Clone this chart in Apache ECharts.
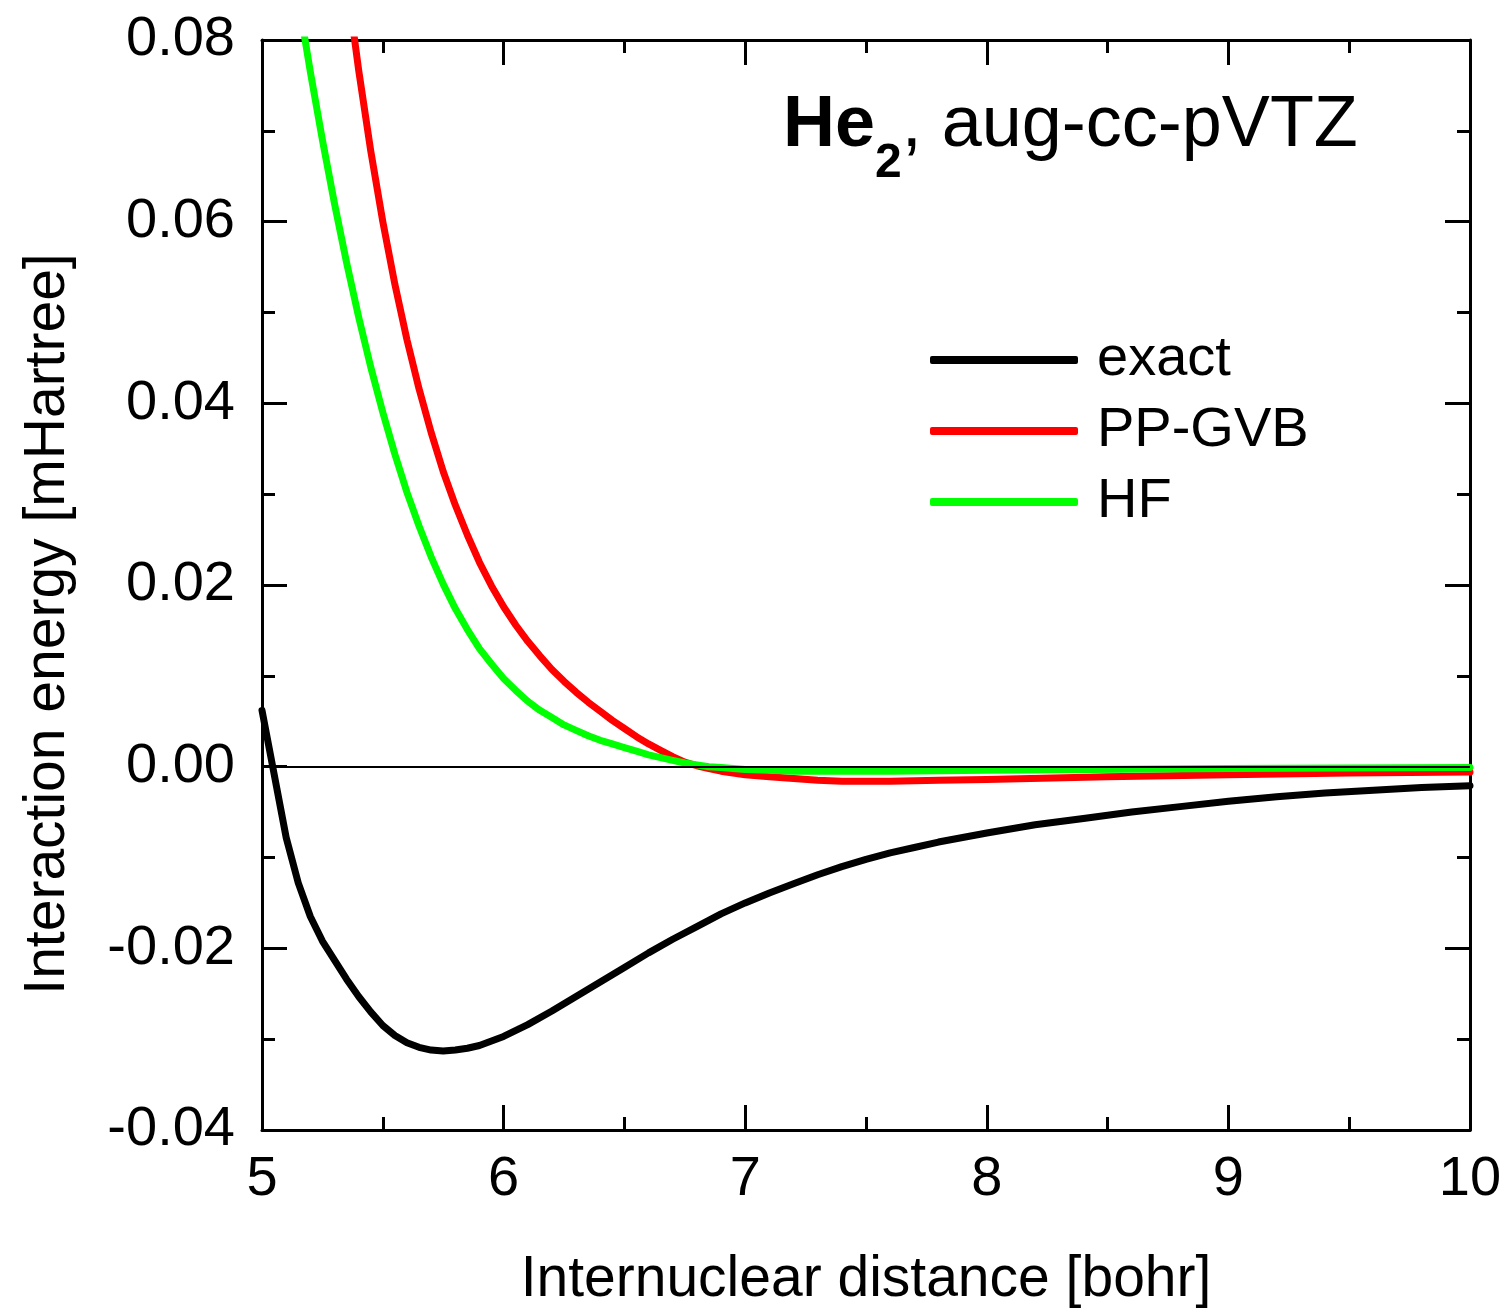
<!DOCTYPE html>
<html>
<head>
<meta charset="utf-8">
<script src="https://cdn.jsdelivr.net/npm/echarts@6/dist/echarts.min.js"></script>
<style>
  html, body { margin: 0; padding: 0; background: #fff; }
  #chart { width: 1510px; height: 1314px; }
</style>
</head>
<body>
<div id="chart"></div>
<script>
// He2 interaction energy curves (aug-cc-pVTZ)
const FONT = "'Liberation Sans', Arial, Helvetica, sans-serif";

const exactR = [5.00, 5.05, 5.10, 5.15, 5.20, 5.25, 5.30, 5.35, 5.40, 5.45, 5.50, 5.55, 5.60, 5.65, 5.70, 5.75,
  5.80, 5.85, 5.90, 5.95, 6.00, 6.10, 6.20, 6.30, 6.40, 6.50, 6.60, 6.70, 6.80, 6.90, 7.00, 7.10, 7.20, 7.30,
  7.40, 7.50, 7.60, 7.70, 7.80, 7.90, 8.00, 8.20, 8.40, 8.60, 8.80, 9.00, 9.20, 9.40, 9.60, 9.80, 10.0];
const exactE = [0.0062, -0.0008, -0.0078, -0.0128, -0.0165, -0.0192, -0.0213, -0.0234, -0.0253, -0.0270, -0.0285,
  -0.0296, -0.0304, -0.0309, -0.0312, -0.0313, -0.0312, -0.0310, -0.0307, -0.0302, -0.0297, -0.0284, -0.0269,
  -0.0253, -0.0237, -0.0221, -0.0205, -0.0190, -0.0176, -0.0162, -0.0150, -0.0139, -0.0129, -0.0119, -0.0110,
  -0.0102, -0.0095, -0.0089, -0.0083, -0.0078, -0.0073, -0.0064, -0.0057, -0.0050, -0.0044, -0.0038, -0.0033,
  -0.0029, -0.0026, -0.0023, -0.0021];

const gvbR = [5.35, 5.40, 5.45, 5.50, 5.55, 5.60, 5.65, 5.70, 5.75, 5.80, 5.85, 5.90, 5.95, 6.00, 6.05, 6.10,
  6.15, 6.20, 6.25, 6.30, 6.35, 6.40, 6.45, 6.50, 6.55, 6.60, 6.65, 6.70, 6.75, 6.80, 6.85, 6.90, 6.95, 7.00,
  7.10, 7.20, 7.30, 7.40, 7.50, 7.60, 7.80, 8.00, 8.50, 9.00, 9.50, 10.0];
const gvbE = [0.0867, 0.0767, 0.0678, 0.0600, 0.0531, 0.0470, 0.0416, 0.0368, 0.0325, 0.0288, 0.0255, 0.0225,
  0.0199, 0.0176, 0.0156, 0.0138, 0.0122, 0.0107, 0.0094, 0.0082, 0.0071, 0.0061, 0.0051, 0.0042, 0.0033, 0.0025,
  0.0018, 0.0011, 0.0005, 0.0001, -0.0002, -0.0005, -0.0007, -0.0009, -0.0011, -0.0013, -0.0015, -0.0016, -0.0016,
  -0.0016, -0.0015, -0.0014, -0.0011, -0.0009, -0.0007, -0.0006];

const hfR = [5.15, 5.20, 5.25, 5.30, 5.35, 5.40, 5.45, 5.50, 5.55, 5.60, 5.65, 5.70, 5.75, 5.80, 5.85, 5.90,
  5.95, 6.00, 6.05, 6.10, 6.15, 6.20, 6.25, 6.30, 6.35, 6.40, 6.45, 6.50, 6.55, 6.60, 6.65, 6.70, 6.75, 6.80,
  6.85, 6.90, 6.95, 7.00, 7.10, 7.20, 7.40, 7.60, 8.00, 9.00, 10.0];
const hfE = [0.0846, 0.0765, 0.0690, 0.0620, 0.0555, 0.0495, 0.0440, 0.0390, 0.0344, 0.0302, 0.0265, 0.0231,
  0.0201, 0.0174, 0.0151, 0.0130, 0.0113, 0.0097, 0.0084, 0.0072, 0.0062, 0.0054, 0.0046, 0.0040, 0.0034, 0.0029,
  0.0025, 0.0021, 0.0017, 0.0013, 0.0010, 0.0007, 0.0004, 0.0002, 0.0000, -0.0001, -0.0002, -0.0003, -0.0004,
  -0.0005, -0.0005, -0.0005, -0.0004, -0.0002, -0.0001];

const xTicks = { min: 5, max: 10, interval: 1 };
const yTicks = { min: -0.04, max: 0.08, interval: 0.02 };

function pairs(xs, ys) {
  return xs.map((x, i) => [x, ys[i]]);
}

const chart = echarts.init(document.getElementById("chart"));

const frameLine = { show: true, onZero: false, lineStyle: { color: "#000", width: 3 } };
const majorTick = { show: true, inside: true, length: 25, lineStyle: { color: "#000", width: 3 } };
const minorTick = { show: true, splitNumber: 2, length: 13, lineStyle: { color: "#000", width: 3 } };

function xAxisBase(pos, withLabels) {
  return {
    type: "value", position: pos, min: xTicks.min, max: xTicks.max, interval: xTicks.interval,
    axisLine: frameLine, axisTick: majorTick, minorTick: minorTick,
    splitLine: { show: false },
    axisLabel: { show: withLabels, color: "#000", fontSize: 56, fontFamily: FONT, margin: 22 },
  };
}
function yAxisBase(pos, withLabels) {
  return {
    type: "value", position: pos, min: yTicks.min, max: yTicks.max, interval: yTicks.interval,
    axisLine: frameLine, axisTick: majorTick, minorTick: minorTick,
    splitLine: { show: false },
    axisLabel: {
      show: withLabels, color: "#000", fontSize: 56, fontFamily: FONT, margin: 27,
      formatter: (v) => v.toFixed(2),
    },
  };
}

const xMain = xAxisBase("bottom", true);
xMain.name = "Internuclear distance [bohr]";
xMain.nameLocation = "middle";
xMain.nameGap = 122;
xMain.nameTextStyle = { color: "#000", fontSize: 57, fontFamily: FONT };

const yMain = yAxisBase("left", true);
yMain.name = "Interaction energy [mHartree]";
yMain.nameLocation = "middle";
yMain.nameGap = 185;
yMain.nameTextStyle = { color: "#000", fontSize: 57, fontFamily: FONT, padding: [0, 78, 0, 0] };

function lineSeries(name, color, data, extra) {
  return Object.assign({
    name: name, type: "line", data: data,
    xAxisIndex: 0, yAxisIndex: 0,
    symbol: "none", smooth: false,
    lineStyle: { color: color, width: 7, cap: "round", join: "round" },
    itemStyle: { color: color },
  }, extra || {});
}

chart.setOption({
  animation: false,
  backgroundColor: "#fff",
  textStyle: { fontFamily: FONT },
  grid: { left: 262, right: 40, top: 40, bottom: 181 },
  title: {
    left: 783, top: 90, padding: 0,
    text: "{b|He}{s|2}{n|, aug-cc-pVTZ}",
    textStyle: {
      rich: {
        b: { fontSize: 72, fontWeight: "bold", fontFamily: FONT, color: "#000", lineHeight: 80, verticalAlign: "top" },
        s: { fontSize: 48, fontWeight: "bold", fontFamily: FONT, color: "#000", verticalAlign: "top", padding: [50, 0, 0, 0] },
        n: { fontSize: 72, fontWeight: "normal", fontFamily: FONT, color: "#000", lineHeight: 80, verticalAlign: "top" },
      },
    },
  },
  legend: {
    left: 930, top: 332, orient: "vertical", padding: 0,
    icon: "roundRect",
    itemWidth: 148, itemHeight: 8, itemGap: 15,
    data: ["exact", "PP-GVB", "HF"],
    textStyle: { color: "#000", fontSize: 56, fontFamily: FONT, padding: [0, 0, 0, 14] },
  },
  xAxis: [xMain, xAxisBase("top", false)],
  yAxis: [yMain, yAxisBase("right", false)],
  series: [
    lineSeries("exact", "#000000", pairs(exactR, exactE), {
      markLine: {
        silent: true, symbol: "none", label: { show: false },
        lineStyle: { color: "#000", width: 2, type: "solid" },
        data: [{ yAxis: 0 }],
      },
    }),
    lineSeries("PP-GVB", "#ff0000", pairs(gvbR, gvbE)),
    lineSeries("HF", "#00ff00", pairs(hfR, hfE)),
  ],
});
</script>
</body>
</html>
